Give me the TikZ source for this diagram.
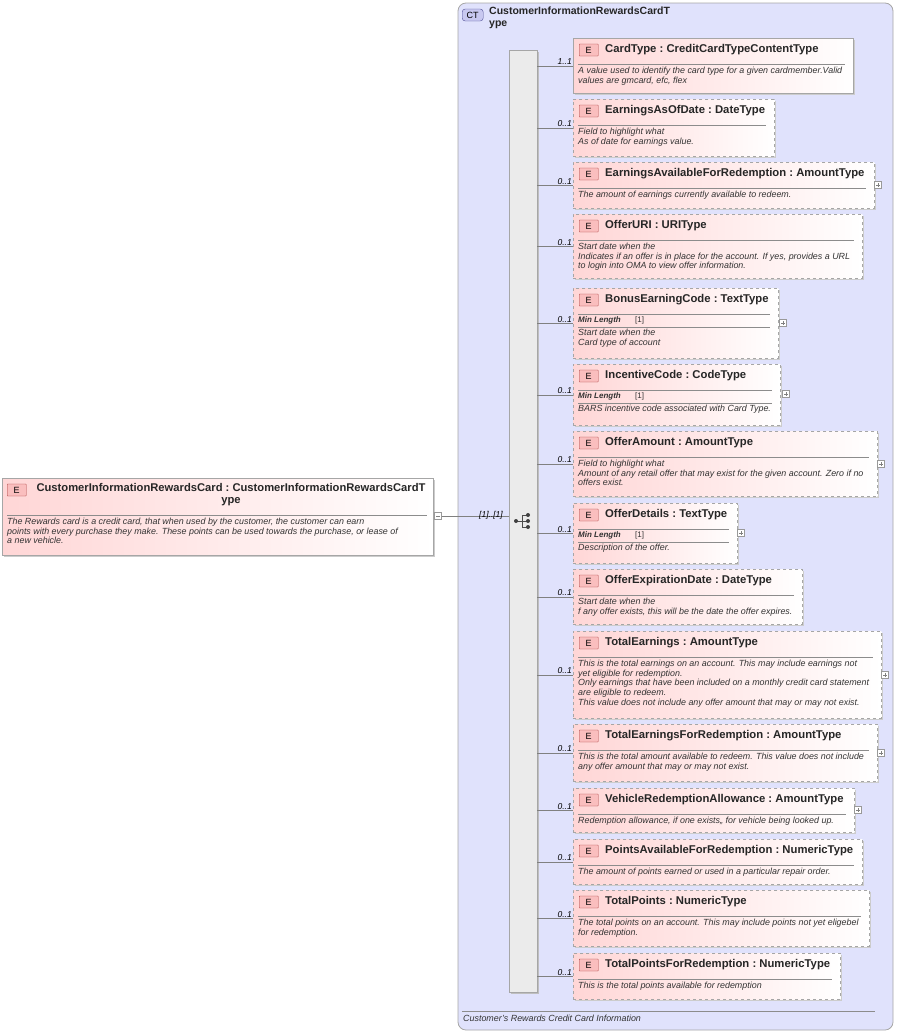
\documentclass[tikz,border=0pt]{standalone}
\usepackage{fontspec}
\setmainfont{Liberation Sans}
\begin{document}
\begin{tikzpicture}[x=1pt,y=-1pt,
  box/.style={draw=black!35,line width=0.8pt,left color={rgb,255:red,255;green,214;blue,214},right color=white,anchor=north west,inner sep=0pt},
  shad/.style={fill=black!20},
  ebadge/.style={draw={rgb,255:red,170;green,60;blue,60},fill={rgb,255:red,250;green,190;blue,190},rounded corners=0.5pt,minimum width=19pt,minimum height=12pt,inner sep=0pt,font=\fontsize{9}{10}\selectfont,anchor=west},
  ttl/.style={font=\bfseries\fontsize{11.3}{13}\selectfont,anchor=west,inner sep=0pt,text=black!85},
  desc/.style={font=\itshape\fontsize{8.9}{9.6}\selectfont,anchor=north west,align=left,inner sep=0pt,text=black!80},
  mult/.style={font=\itshape\fontsize{8.5}{9}\selectfont,anchor=south east,inner sep=1pt},
  conn/.style={draw=black!50,line width=0.6pt},
  pm/.style={draw=black!40,fill=white,minimum size=7pt,inner sep=0pt,line width=0.5pt}]
\useasboundingbox (0,0) rectangle (898,1034);
% container
\draw[draw=black!35,fill={rgb,255:red,224;green,226;blue,252},rounded corners=8pt,line width=0.8pt] (458,3) rectangle (893,1030);
\node[draw={rgb,255:red,80;green,80;blue,150},fill={rgb,255:red,200;green,200;blue,240},rounded corners=3pt,minimum width=21pt,minimum height=12pt,inner sep=0pt,font=\fontsize{9}{10}\selectfont,anchor=west] (ctb) at (462,15) {CT};
\node[ttl,anchor=north west,align=left,font=\bfseries\fontsize{10.5}{11.5}\selectfont] (ctt) at (489,7) {CustomerInformationRewardsCardT\\ype};
\draw[black!45] (462,1011) -- (875,1011);
\node[desc] (ctd) at (463,1015) {Customer's Rewards Credit Card Information};
% sequence bar
\fill[black!25] (511,52) rectangle (539,994);
\node[draw=black!35,fill=black!8,anchor=north west,minimum width=28pt,minimum height=942pt,inner sep=0pt] (seq) at (509,50) {};
% sequence icon
\node (seqicon) at (523,521) {};
\draw[black!70,line width=0.8pt] (516,521) -- (522,521) (522,515) -- (522,527) (522,515) -- (527,515) (522,521) -- (527,521) (522,527) -- (527,527);
\fill[black!75] (516,521) circle (2pt) (528,515) circle (2pt) (528,521) circle (2pt) (528,527) circle (2pt);
% left element
\fill[shad] (4,480) rectangle (435,557);
\node[box,minimum width=431pt,minimum height=77pt] (root) at (2,478) {};
\node[ebadge] (rootE) at (7,490) {E};
\node[font=\bfseries\fontsize{11.2}{12}\selectfont,anchor=north,align=center,inner sep=0pt,text=black!85] (rootT) at (231,483) {CustomerInformationRewardsCard\ :\ CustomerInformationRewardsCardT\\ype};
\draw[black!45] (7,515) -- (427,515);
\node[desc] (rootD) at (7,518) {The Rewards card is a credit card, that when used by the customer, the customer can earn\\points with every purchase they make.  These points can be used towards the purchase, or lease of\\a new vehicle.};
\node[pm] (rootm) at (438,516) {};
\draw[black!50,line width=0.5pt] (436,516) -- (440,516);
\draw[conn] (rootm.east) -- (rootm.east -| seq.west);
\node[mult,anchor=south] (rootmult) at (491,520) {[1]..[1]};
% element macro
\newcommand\elbox[9]{%
  \fill[shad] (#2+2,#3+2) rectangle (#4+2,#5+2);
  \node[box,#6,minimum width={(#4-#2)*1pt},minimum height={(#5-#3)*1pt}] (#1) at (#2,#3) {};
  \node[ebadge] (#1E) at (#2+6,#3+12) {E};
  \node[ttl] (#1T) at (#2+32,#3+12) {#7};
  \draw[black!45] (#2+5,#3+26) -- (#4-8,#3+26);
  \node[desc] (#1D) at (#2+5,#3+29) {#8};
  \draw[conn] (seq.east |- #1.west) -- (#1.west);
  \node[mult] (#1M) at (#1.west) {#9};
}
\newcommand\plusbox[3]{\node[pm] (#1P) at (#2,#3) {};
  \draw[black!50,line width=0.5pt] (#2-2,#3) -- (#2+2,#3) (#2,#3-2) -- (#2,#3+2);}
\newcommand\minlen[5]{\node[desc,font=\bfseries\itshape\fontsize{8}{9}\selectfont] (#1L) at (#2+5,#3+28) {Min Length};
  \node[desc,font=\fontsize{8}{9}\selectfont] (#1V) at (#2+62,#3+28) {[1]};
  \draw[black!45] (#2+5,#3+39) -- (#4-8,#3+39);
  \node[desc] (#1B) at (#2+5,#3+41) {#5};}
\elbox{a}{573}{38}{853}{93}{}{CardType\ :\ CreditCardTypeContentType}{A value used to identify the card type for a given cardmember.Valid\\values are gmcard, efc, flex}{1..1}
\elbox{b}{573}{99}{774}{156}{dashed}{EarningsAsOfDate\ :\ DateType}{Field to highlight what\\As of date for earnings value.}{0..1}
\elbox{c}{573}{162}{874}{208}{dashed}{EarningsAvailableForRedemption\ :\ AmountType}{The amount of earnings currently available to redeem.}{0..1}
\plusbox{c}{878}{185}
\elbox{d}{573}{214}{862}{278}{dashed}{OfferURI\ :\ URIType}{Start date when the\\Indicates if an offer is in place for the account.  If yes, provides a URL\\to login into OMA to view offer information.}{0..1}
\elbox{e}{573}{288}{778}{358}{dashed}{BonusEarningCode\ :\ TextType}{}{0..1}
\minlen{e}{573}{288}{778}{Start date when the\\Card type of account}
\plusbox{e}{783}{323}
\elbox{f}{573}{364}{780}{425}{dashed}{IncentiveCode\ :\ CodeType}{}{0..1}
\minlen{f}{573}{364}{780}{BARS incentive code associated with Card Type.}
\plusbox{f}{786}{394}
\elbox{g}{573}{431}{877}{496}{dashed}{OfferAmount\ :\ AmountType}{Field to highlight what\\Amount of any retail offer that may exist for the given account.  Zero if no\\offers exist.}{0..1}
\plusbox{g}{881}{464}
\elbox{h}{573}{503}{737}{563}{dashed}{OfferDetails\ :\ TextType}{}{0..1}
\minlen{h}{573}{503}{737}{Description of the offer.}
\plusbox{h}{741}{533}
\elbox{i}{573}{569}{802}{624}{dashed}{OfferExpirationDate\ :\ DateType}{Start date when the\\f any offer exists, this will be the date the offer expires.}{0..1}
\elbox{j}{573}{631}{881}{718}{dashed}{TotalEarnings\ :\ AmountType}{This is the total earnings on an account. This may include earnings not\\yet eligible for redemption.\\Only earnings that have been included on a monthly credit card statement\\are eligible to redeem.\\This value does not include any offer amount that may or may not exist.}{0..1}
\plusbox{j}{885}{675}
\elbox{k}{573}{724}{877}{781}{dashed}{TotalEarningsForRedemption\ :\ AmountType}{This is the total amount available to redeem.  This value does not include\\any offer amount that may or may not exist.}{0..1}
\plusbox{k}{881}{753}
\elbox{l}{573}{788}{854}{832}{dashed}{VehicleRedemptionAllowance\ :\ AmountType}{Redemption allowance, if one exists,, for vehicle being looked up.}{0..1}
\plusbox{l}{858}{810}
\elbox{m}{573}{839}{862}{884}{dashed}{PointsAvailableForRedemption\ :\ NumericType}{The amount of points earned or used in a particular repair order.}{0..1}
\elbox{n}{573}{890}{869}{946}{dashed}{TotalPoints\ :\ NumericType}{The total points on an account. This may include points not yet eligebel\\for redemption.}{0..1}
\elbox{o}{573}{953}{840}{999}{dashed}{TotalPointsForRedemption\ :\ NumericType}{This is the total points available for redemption}{0..1}
\end{tikzpicture}
\end{document}
